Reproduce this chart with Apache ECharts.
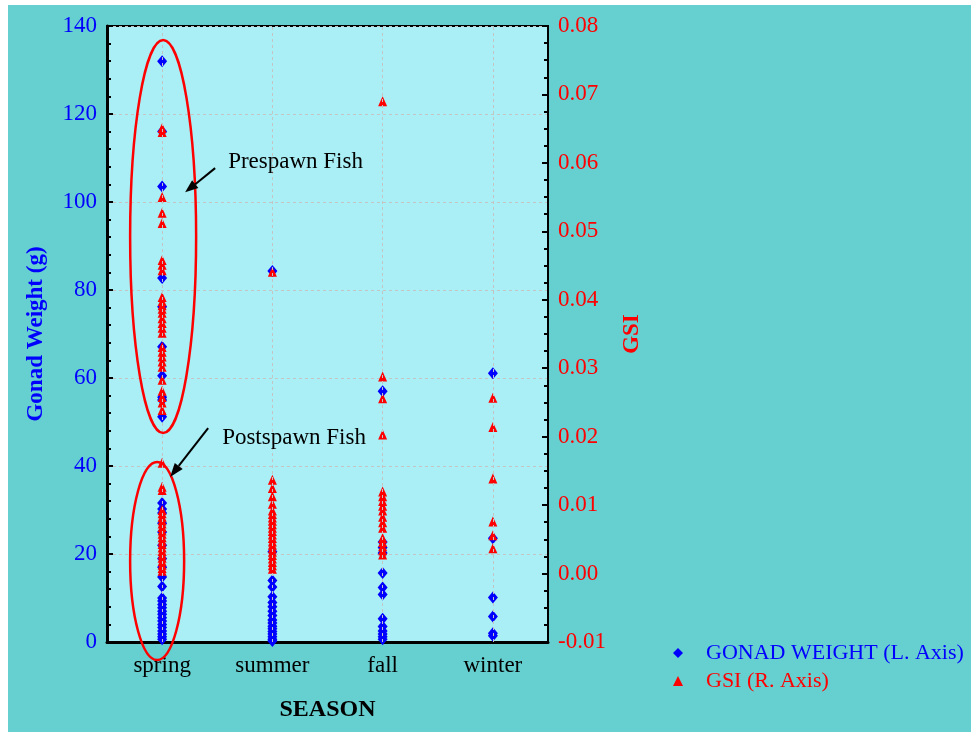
<!DOCTYPE html>
<html>
<head>
<meta charset="utf-8">
<script src="https://cdn.jsdelivr.net/npm/echarts@6/dist/echarts.min.js"></script>
<style>
  html, body { margin: 0; padding: 0; background: #ffffff; width: 971px; height: 732px; overflow: hidden; }
  #chart { position: absolute; left: 8px; top: 5px; width: 963px; height: 727px; }
</style>
</head>
<body>
<div id="chart"></div>
<script>
// Seasons on the x axis
const seasons = ['spring', 'summer', 'fall', 'winter'];

// Gonad weight (g), left axis
const gonadSpring = [132, 116, 103.5, 82.7, 76.2, 67.1, 60.5, 55.6, 55, 51.2,
  31.6, 30.2, 29.3, 27, 25, 22, 19, 17, 14.8, 12.6, 10, 9.3, 8.5, 7.8, 7, 6.3,
  5.5, 4.8, 4, 3.3, 2.5, 1.8, 1.2, 0.6];
const gonadSummer = [84.3, 20.5, 14, 12.5, 10.3, 9, 8, 7, 6, 5, 4.3, 3.6, 3,
  2.4, 1.8, 1.2, 0.6, 0.2];
const gonadFall = [57, 22.7, 21.5, 20.2, 15.7, 12.4, 10.8, 5.3, 3.5, 2.5, 1.8, 1.2, 0.6];
const gonadWinter = [61.1, 23.6, 10.1, 5.8, 2.0, 1.4];

// Gonadosomatic index, right axis
const gsiSpring = [0.0651, 0.0645, 0.0550, 0.0527, 0.0512, 0.0458, 0.0451,
  0.0443, 0.0404, 0.0398, 0.0392, 0.0387, 0.0381, 0.0373, 0.0366, 0.0359,
  0.0352, 0.0331, 0.0324, 0.0317, 0.0310, 0.0302, 0.0283, 0.0267, 0.0258,
  0.0250, 0.0239,
  0.0162, 0.0127, 0.0122, 0.0093, 0.0088, 0.0083, 0.0078, 0.0073, 0.0068,
  0.0063, 0.0058, 0.0053, 0.0048, 0.0043, 0.0038, 0.0033, 0.0028, 0.0023,
  0.0018, 0.0013, 0.0008, 0.0004];
const gsiSummer = [0.0441, 0.0137, 0.0125, 0.0113, 0.0102, 0.0092, 0.0087,
  0.0082, 0.0077, 0.0072, 0.0067, 0.0062, 0.0057, 0.0052, 0.0047, 0.0042,
  0.0037, 0.0032, 0.0027, 0.0022, 0.0017, 0.0012, 0.0007];
const gsiFall = [0.0690, 0.0288, 0.0256, 0.0203, 0.0120, 0.0113, 0.0106,
  0.0099, 0.0092, 0.0083, 0.0075, 0.0067, 0.0052, 0.0046, 0.0040, 0.0034, 0.0028];
const gsiWinter = [0.0257, 0.0214, 0.0139, 0.0076, 0.0056, 0.0037];

// Axis ranges
const gonadTicks = { min: 0, max: 140, step: 20 };
const gsiTicks = { min: -0.01, max: 0.08, step: 0.01 };

const gonadName = 'GONAD WEIGHT (L. Axis)';
const gsiName = 'GSI (R. Axis)';

function pairs(season, values) {
  return values.map(v => [season, v]);
}
const gonadData = [].concat(
  pairs('spring', gonadSpring), pairs('summer', gonadSummer),
  pairs('fall', gonadFall), pairs('winter', gonadWinter));
const gsiData = [].concat(
  pairs('spring', gsiSpring), pairs('summer', gsiSummer),
  pairs('fall', gsiFall), pairs('winter', gsiWinter));

const FONT = 'Liberation Serif';
const BLUE = '#0000ff';
const RED = '#ff0000';
const GRIDLINE = '#c4c4c4';
const FS = 23;

const chart = echarts.init(document.getElementById('chart'));

chart.setOption({
  backgroundColor: '#66cfcf',
  animation: false,
  textStyle: { fontFamily: FONT },
  grid: {
    left: 99, top: 21, width: 441, height: 616,
    show: true, backgroundColor: '#aaeff5',
    borderColor: '#000', borderWidth: 2
  },
  legend: {
    orient: 'vertical',
    left: 660, top: 632,
    itemWidth: 10, itemHeight: 10, itemGap: 6,
    selectedMode: false,
    textStyle: { fontFamily: FONT, fontSize: 22, padding: [0, 0, 0, 18] },
    data: [
      { name: gonadName, icon: 'diamond', textStyle: { color: BLUE } },
      { name: gsiName, icon: 'triangle', textStyle: { color: RED } }
    ]
  },
  xAxis: {
    type: 'category',
    data: seasons,
    boundaryGap: true,
    axisLine: { lineStyle: { color: '#000', width: 3 } },
    axisTick: { show: false },
    axisLabel: { color: '#000', fontSize: FS, fontFamily: FONT, margin: 12 },
    splitLine: { show: false },
    name: 'SEASON',
    nameLocation: 'middle',
    nameGap: 56,
    nameTextStyle: { color: '#000', fontSize: 24, fontWeight: 'bold', fontFamily: FONT }
  },
  yAxis: [
    {
      type: 'value',
      position: 'left',
      min: gonadTicks.min, max: gonadTicks.max, interval: gonadTicks.step,
      axisLine: { show: true, lineStyle: { color: '#000', width: 3 } },
      axisTick: { show: true, inside: true, length: 6, lineStyle: { color: '#000', width: 2 } },
      minorTick: { show: true, splitNumber: 5, length: 4, lineStyle: { color: '#000', width: 2 } },
      axisLabel: { color: BLUE, fontSize: FS, fontFamily: FONT, margin: 10 },
      splitLine: { show: true, lineStyle: { color: GRIDLINE, type: [3, 3], width: 1 } },
      name: 'Gonad Weight (g)',
      nameLocation: 'middle',
      nameGap: 59,
      nameTextStyle: { color: BLUE, fontSize: FS, fontWeight: 'bold', fontFamily: FONT }
    },
    {
      type: 'value',
      position: 'right',
      min: gsiTicks.min, max: gsiTicks.max, interval: gsiTicks.step,
      axisLine: { show: true, lineStyle: { color: '#000', width: 2 } },
      axisTick: { show: true, inside: true, length: 6, lineStyle: { color: '#000', width: 2 } },
      minorTick: { show: true, splitNumber: 4, length: 4, lineStyle: { color: '#000', width: 2 } },
      axisLabel: {
        color: RED, fontSize: FS, fontFamily: FONT, margin: 10,
        formatter: v => v.toFixed(2)
      },
      splitLine: { show: false },
      name: 'GSI',
      nameLocation: 'middle',
      nameGap: 73,
      nameTextStyle: { color: RED, fontSize: FS, fontWeight: 'bold', fontFamily: FONT }
    }
  ],
  series: [
    {
      // vertical dashed guides through each season
      name: 'guides',
      type: 'scatter',
      data: [],
      z: 1,
      silent: true,
      markLine: {
        silent: true,
        symbol: 'none',
        label: { show: false },
        lineStyle: { color: GRIDLINE, type: [3, 3], width: 1 },
        data: seasons.map(s => ({ xAxis: s }))
      }
    },
    {
      name: gonadName,
      type: 'scatter',
      yAxisIndex: 0,
      symbol: 'diamond',
      symbolSize: [10, 12],
      itemStyle: { color: BLUE, opacity: 1 },
      z: 3,
      data: gonadData
    },
    {
      name: gsiName,
      type: 'scatter',
      yAxisIndex: 1,
      symbol: 'triangle',
      symbolSize: [9, 10],
      itemStyle: { color: RED, opacity: 1 },
      z: 4,
      data: gsiData
    }
  ]
});

// Annotations: ellipses around the two spring groups with labelled arrows
function px(season, value) {
  return chart.convertToPixel({ xAxisIndex: 0, yAxisIndex: 0 }, [season, value]);
}
function arrow(from, to, headLen, headHalf) {
  const dx = to[0] - from[0], dy = to[1] - from[1];
  const len = Math.sqrt(dx * dx + dy * dy);
  const ux = dx / len, uy = dy / len;
  const bx = to[0] - ux * headLen, by = to[1] - uy * headLen;
  return [
    {
      type: 'line', z: 50, silent: true,
      shape: { x1: from[0], y1: from[1], x2: bx, y2: by },
      style: { stroke: '#000', lineWidth: 2 }
    },
    {
      type: 'polygon', z: 50, silent: true,
      shape: { points: [to, [bx - uy * headHalf, by + ux * headHalf], [bx + uy * headHalf, by - ux * headHalf]] },
      style: { fill: '#000' }
    }
  ];
}

const springX = px('spring', 0)[0];
const upTop = px('spring', 136.8)[1], upBot = px('spring', 47.5)[1];
const loTop = px('spring', 40.9)[1], loBot = px('spring', -4.1)[1];
const noteFont = FS + 'px "Liberation Serif"';

const graphics = [
  {
    type: 'ellipse', z: 40, silent: true,
    shape: { cx: springX + 1, cy: (upTop + upBot) / 2, rx: 33, ry: (upBot - upTop) / 2 },
    style: { fill: 'none', stroke: RED, lineWidth: 2.5 }
  },
  {
    type: 'ellipse', z: 40, silent: true,
    shape: { cx: springX - 5, cy: (loTop + loBot) / 2, rx: 27, ry: (loBot - loTop) / 2 },
    style: { fill: 'none', stroke: RED, lineWidth: 2.5 }
  },
  {
    type: 'text', z: 50, silent: true,
    x: springX + 66, y: px('spring', 109.2)[1],
    style: { text: 'Prespawn Fish', font: noteFont, fill: '#000', verticalAlign: 'middle' }
  },
  {
    type: 'text', z: 50, silent: true,
    x: springX + 60, y: px('spring', 46.3)[1],
    style: { text: 'Postspawn Fish', font: noteFont, fill: '#000', verticalAlign: 'middle' }
  }
].concat(
  arrow([springX + 53, px('spring', 107.7)[1]], [springX + 23, px('spring', 102.2)[1]], 13, 5),
  arrow([springX + 46, px('spring', 48.6)[1]], [springX + 8, px('spring', 37.5)[1]], 14, 5)
);

chart.setOption({ graphic: graphics });
</script>
</body>
</html>
